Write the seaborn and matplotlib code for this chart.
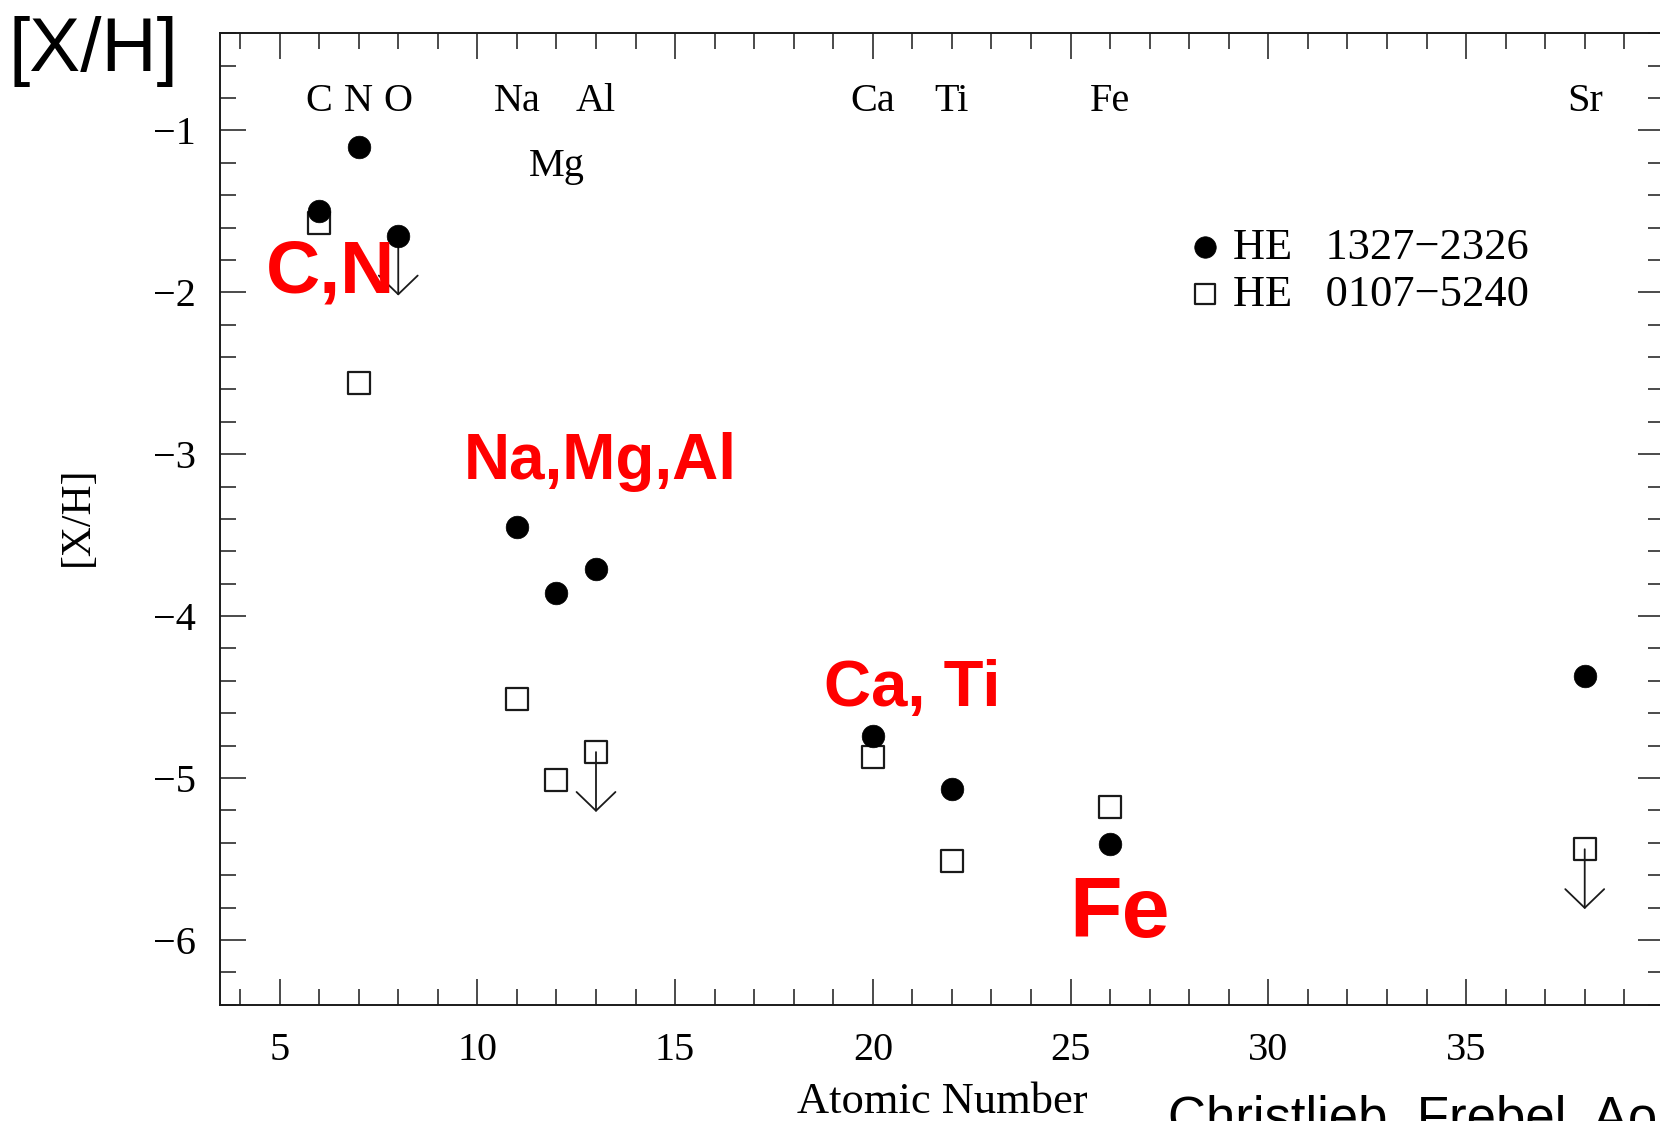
import numpy as np
import pandas as pd
import matplotlib
matplotlib.use("Agg")
import matplotlib.pyplot as plt
from matplotlib.ticker import FixedLocator, MultipleLocator
import seaborn as sns

# Abundances [X/H] of the two hyper metal-poor stars
elements = ["C", "N", "O", "Na", "Mg", "Al", "Ca", "Ti", "Fe", "Sr"]
atomic_number = [6, 7, 8, 11, 12, 13, 20, 22, 26, 38]
he1327_xh = [-1.50, -1.10, -1.65, -3.45, -3.86, -3.71, -4.74, -5.07, -5.41, -4.37]
he1327_upper = [False, False, True, False, False, False, False, False, False, False]
he0107_xh = [-1.57, -2.56, np.nan, -4.51, -5.01, -4.84, -4.87, -5.51, -5.18, -5.44]
he0107_upper = [False, False, False, False, False, True, False, False, False, True]
star_names = ["HE   1327\u22122326", "HE   0107\u22125240"]
element_row = [0, 0, 0, 0, 1, 0, 0, 0, 0, 0]
group_labels = ["C,N", "Na,Mg,Al", "Ca, Ti", "Fe"]
x_ticks = [5, 10, 15, 20, 25, 30, 35]
y_ticks = [-6, -5, -4, -3, -2, -1]

df = pd.concat([
    pd.DataFrame({"Z": atomic_number, "xh": he1327_xh, "upper": he1327_upper,
                  "star": star_names[0]}),
    pd.DataFrame({"Z": atomic_number, "xh": he0107_xh, "upper": he0107_upper,
                  "star": star_names[1]}),
]).dropna()

sns.set_style("ticks")
plt.rcParams["font.family"] = ["Liberation Serif", "DejaVu Serif"]
plt.rcParams["axes.unicode_minus"] = True
for key in ("text.color", "axes.labelcolor", "xtick.color", "ytick.color",
            "xtick.labelcolor", "ytick.labelcolor"):
    plt.rcParams[key] = "black"

SERIF = 29
INK = "#1a1a1a"
LIMIT_ARROW = 0.37

fig = plt.figure(figsize=(16.6, 11.21), dpi=100)
ax = fig.add_axes([0.1327, 0.1038, 0.8696, 0.8665])

open_sq = df[df["star"] == star_names[1]]
filled = df[df["star"] == star_names[0]]

sns.scatterplot(data=open_sq, x="Z", y="xh", marker="s", s=235,
                facecolor="white", edgecolor=INK, linewidth=1.6,
                label=star_names[1], ax=ax, zorder=3)

# downward arrows for upper limits
for _, row in df[df["upper"]].iterrows():
    ax.annotate("", xy=(row["Z"], row["xh"] - LIMIT_ARROW),
                xytext=(row["Z"], row["xh"]),
                arrowprops=dict(arrowstyle="->,head_length=1.35,head_width=1.4",
                                lw=1.3, color=INK, shrinkA=0, shrinkB=0,
                                mutation_scale=10),
                zorder=4)

sns.scatterplot(data=filled, x="Z", y="xh", marker="o", s=265,
                color="black", edgecolor="black", linewidth=0.5,
                label=star_names[0], ax=ax, zorder=5)

ax.set_xlim(3.5, 40)
ax.set_ylim(-6.4, -0.4)
ax.xaxis.set_major_locator(FixedLocator(x_ticks))
ax.xaxis.set_minor_locator(MultipleLocator(1))
ax.yaxis.set_major_locator(FixedLocator(y_ticks))
ax.yaxis.set_minor_locator(MultipleLocator(0.2))

ax.tick_params(which="both", direction="in", top=True, right=True,
               color=INK, width=1.1, labelsize=SERIF, labelcolor="black")
ax.tick_params(which="major", length=18.7)
ax.tick_params(which="minor", length=11.2)
ax.tick_params(axis="x", pad=19.5)
ax.tick_params(axis="y", pad=17.5)
for sp in ax.spines.values():
    sp.set_linewidth(1.4)
    sp.set_color(INK)

ax.set_xlabel("Atomic Number", fontsize=32, va="center")
ax.xaxis.set_label_coords(0.5, -0.1003)
ax.set_ylabel("[X/H]", fontsize=30, va="center")
ax.yaxis.set_label_coords(-0.0985, 0.5026)

# element names along the top
row_y = [-0.88, -1.28]
for name, z, r in zip(elements, atomic_number, element_row):
    ax.text(z, row_y[r], name, ha="center", va="baseline", fontsize=SERIF)

handles, labels = ax.get_legend_handles_labels()
order = [labels.index(n) for n in star_names]
ax.legend([handles[i] for i in order], [labels[i] for i in order],
          loc="upper left", bbox_to_anchor=(0.6728, 0.800), frameon=False,
          prop={"family": "Liberation Serif", "size": 32},
          handlelength=0.6, handletextpad=0.33, borderpad=0,
          borderaxespad=0, labelspacing=0.16, markerscale=0.95)

# highlighted element groups
group_layout = [(6.28, -2.0, 54), (13.10, -3.151, 46), (21.0, -4.556, 47),
                (26.24, -5.985, 62)]
for text, (gx, gy, fs) in zip(group_labels, group_layout):
    ax.text(gx, gy, text, ha="center", va="baseline", color="#ff0000",
            fontsize=fs, fontweight="bold", family="Liberation Sans",
            zorder=6)

fig.text(0.00506, 1 - 16 / 1121, "[X/H]", ha="left", va="top", fontsize=55,
         family="Liberation Sans", color="black")
fig.text(1168 / 1660, -0.012, "Christlieb, Frebel, Aoki et al.", ha="left",
         va="baseline", fontsize=38, family="Liberation Sans", color="black")

fig.savefig("out.png", dpi=100)
